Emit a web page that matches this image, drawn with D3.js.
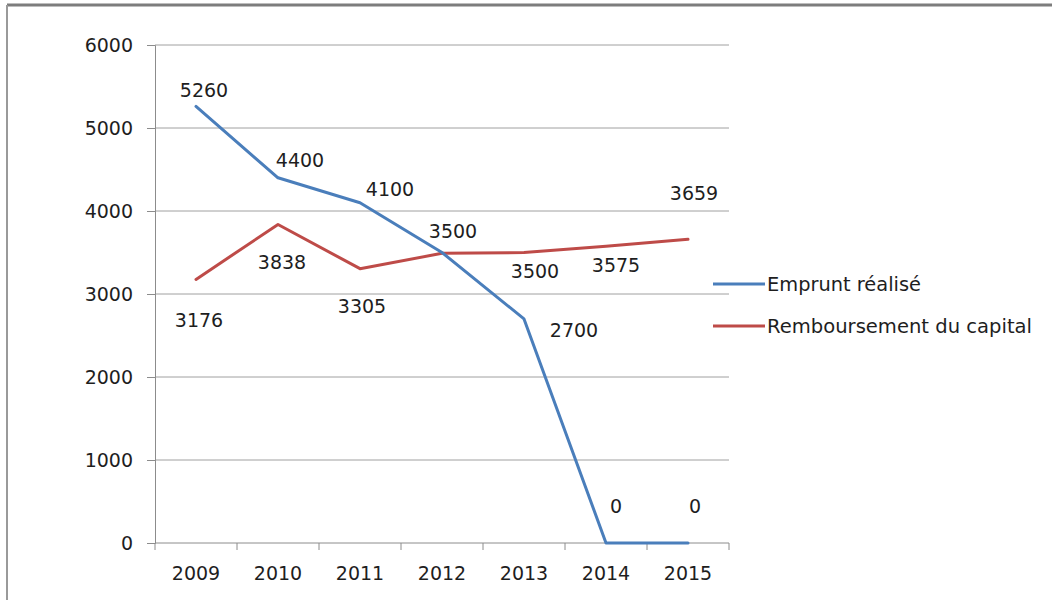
<!DOCTYPE html>
<html>
<head>
<meta charset="utf-8">
<script src="https://cdn.jsdelivr.net/npm/d3@7"></script>
<style>
  html, body { margin: 0; padding: 0; background: #fff; }
  svg { display: block; }
  text { font-family: "DejaVu Sans", sans-serif; fill: #1e1e1e; }
</style>
</head>
<body>
<svg id="chart" width="1052" height="600"></svg>
<script>
// ---- data ----
const categories = ["2009", "2010", "2011", "2012", "2013", "2014", "2015"];
const empruntValues = [5260, 4400, 4100, 3500, 2700, 0, 0];
const remboursementValues = [3176, 3838, 3305, 3490, 3500, 3575, 3659];
const seriesNames = ["Emprunt réalisé", "Remboursement du capital"];
const yTicks = [0, 1000, 2000, 3000, 4000, 5000, 6000];

// ---- label placement (pixel offsets from the point; null = label hidden behind another) ----
const empruntLabelOffsets = [[8, -16], [22, -18], [30, -14], [11, -22], [50, 11], [10, -37], [7, -37]];
const remboursementLabelOffsets = [[3, 41], [4, 38], [2, 37], null, [11, 18], [10, 19], [6, -46]];

const colors = ["#4a7ebb", "#be4b48"];

const svg = d3.select("#chart");

// outer frame (top and left edges visible in reference)
svg.append("line").attr("x1", 7).attr("x2", 1052).attr("y1", 5).attr("y2", 5)
  .attr("stroke", "#7d7d7d").attr("stroke-width", 3);
svg.append("line").attr("x1", 7).attr("x2", 7).attr("y1", 5).attr("y2", 600)
  .attr("stroke", "#9a9a9a").attr("stroke-width", 2);

const x = d3.scaleBand().domain(categories).range([155, 729]).padding(0);
const y = d3.scaleLinear().domain([0, 6000]).range([543, 45]);
const cx = c => x(c) + x.bandwidth() / 2;

// gridlines
svg.append("g").selectAll("line").data(yTicks.filter(t => t > 0)).join("line")
  .attr("x1", 155).attr("x2", 729)
  .attr("y1", d => y(d)).attr("y2", d => y(d))
  .attr("stroke", "#a0a0a0").attr("stroke-width", 1);

// y axis
const yAxis = svg.append("g").attr("transform", "translate(155,0)")
  .call(d3.axisLeft(y).tickValues(yTicks).tickSize(8).tickPadding(14).tickFormat(d3.format("d")));
yAxis.select(".domain").attr("stroke", "#8c8c8c");
yAxis.selectAll(".tick line").attr("stroke", "#8c8c8c");
yAxis.selectAll(".tick text").attr("font-size", 19).attr("font-family", "DejaVu Sans").attr("fill", "#1e1e1e");

// x axis
const xAxis = svg.append("g").attr("transform", "translate(0,543)")
  .call(d3.axisBottom(x).tickSize(0).tickPadding(24));
xAxis.select(".domain").attr("stroke", "#8c8c8c").attr("d", "M155,0H729");
xAxis.selectAll(".tick text").attr("font-size", 19).attr("font-family", "DejaVu Sans").attr("fill", "#1e1e1e");
// tick marks at band edges
const edges = categories.map(c => x(c)).concat([x(categories[categories.length - 1]) + x.bandwidth()]);
svg.append("g").selectAll("line").data(edges).join("line")
  .attr("x1", d => d).attr("x2", d => d).attr("y1", 543).attr("y2", 550)
  .attr("stroke", "#8c8c8c");

// lines
const seriesList = [
  { name: seriesNames[0], values: empruntValues, offsets: empruntLabelOffsets, color: colors[0] },
  { name: seriesNames[1], values: remboursementValues, offsets: remboursementLabelOffsets, color: colors[1] }
];

const line = d3.line().x((d, i) => cx(categories[i])).y(d => y(d));

// draw red first, then blue on top
[seriesList[1], seriesList[0]].forEach(s => {
  svg.append("path").datum(s.values)
    .attr("fill", "none").attr("stroke", s.color).attr("stroke-width", 3)
    .attr("stroke-linejoin", "round").attr("stroke-linecap", "round")
    .attr("d", line);
});

// data labels
seriesList.forEach(s => {
  const pts = s.values.map((v, i) => ({ v, i })).filter(p => s.offsets[p.i]);
  svg.append("g").selectAll("text").data(pts).join("text")
    .attr("x", p => cx(categories[p.i]) + s.offsets[p.i][0])
    .attr("y", p => y(p.v) + s.offsets[p.i][1])
    .attr("text-anchor", "middle").attr("dominant-baseline", "central")
    .attr("font-size", 19)
    .text(p => p.v);
});

// legend
const legendWidths = [154, 265];
const legend = svg.append("g");
seriesList.forEach((s, i) => {
  const ly = 284 + i * 42;
  legend.append("line").attr("x1", 713).attr("x2", 765).attr("y1", ly).attr("y2", ly)
    .attr("stroke", s.color).attr("stroke-width", 3);
  legend.append("text").attr("x", 767).attr("y", ly).attr("dominant-baseline", "central")
    .attr("font-size", 19)
    .attr("textLength", legendWidths[i]).attr("lengthAdjust", "spacingAndGlyphs")
    .text(s.name);
});
</script>
</body>
</html>
